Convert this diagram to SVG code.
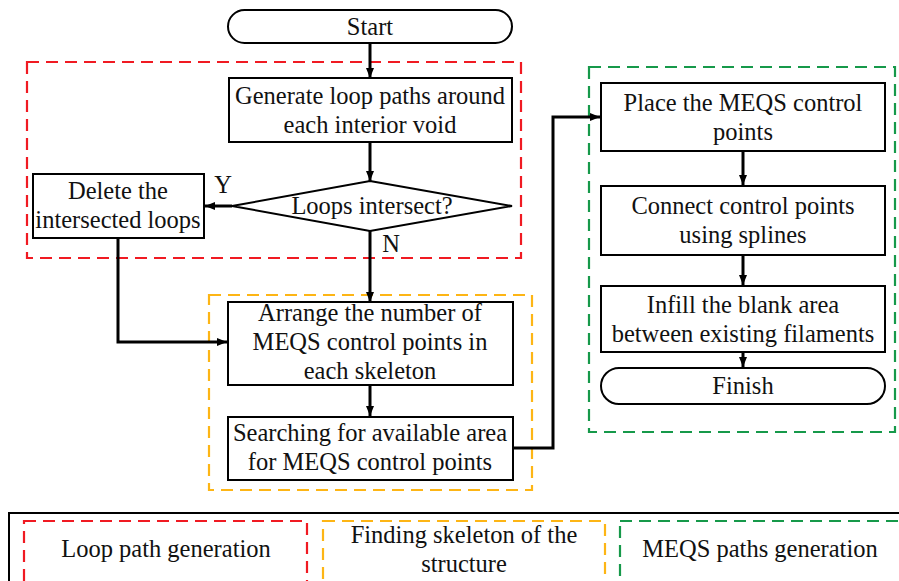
<svg xmlns="http://www.w3.org/2000/svg" width="899" height="581" viewBox="0 0 899 581">
<defs>
<marker id="ah" markerWidth="10" markerHeight="8" refX="10" refY="4" orient="auto" markerUnits="userSpaceOnUse">
<path d="M0,0 L10,4 L0,8 Z" fill="#000"/>
</marker>
<style>
.box{fill:#fff;stroke:#000;stroke-width:2}
.t{font-family:'Liberation Serif','Times New Roman','DejaVu Serif',serif;font-size:24.5px;fill:#111;text-anchor:middle}
.c{fill:none;stroke:#000;stroke-width:3;marker-end:url(#ah)}
.dash{fill:none;stroke-width:2.2;stroke-dasharray:12 7}
.red{stroke:#f01a22}
.org{stroke:#fdb515}
.grn{stroke:#16994a}
</style>
</defs>
<rect width="899" height="581" fill="#fff"/>
<g id="groups">
<rect class="dash red" x="27" y="62" width="494" height="196"/>
<rect class="dash org" x="209" y="295" width="323" height="195"/>
<rect class="dash grn" x="589" y="67" width="306" height="365"/>
</g>
<g id="connectors">
<path class="c" d="M370,43 V78"/>
<path class="c" d="M370,142 V181"/>
<path class="c" d="M232,206 H205"/>
<path class="c" d="M370,231 V302"/>
<path class="c" d="M118,238 V342 H227"/>
<path class="c" d="M370,385 V416"/>
<path class="c" d="M513,448 H553 V117 H600"/>
<path class="c" d="M743,151 V185"/>
<path class="c" d="M743,255 V285"/>
<path class="c" d="M743,352 V367"/>
</g>
<g font-family="'Liberation Serif', 'Times New Roman', serif">
<g id="start">
<rect class="box" x="228" y="10" width="284" height="33" rx="16.5"/>
<text class="t" x="370" y="35">Start</text>
</g>
<g id="generate">
<rect class="box" x="229" y="78" width="283" height="64"/>
<text class="t" x="370" y="104">Generate loop paths around</text>
<text class="t" x="370" y="133">each interior void</text>
</g>
<g id="decision">
<polygon class="box" points="370,181 512,206 370,231 232,206"/>
<text class="t" x="372" y="214">Loops intersect?</text>
</g>
<g id="delete">
<rect class="box" x="33" y="174" width="171" height="64"/>
<text class="t" x="118" y="199">Delete the</text>
<text class="t" x="118" y="228">intersected loops</text>
</g>
<g id="labels">
<text class="t" x="223" y="193">Y</text>
<text class="t" x="391" y="252">N</text>
</g>
<g id="arrange">
<rect class="box" x="228" y="302" width="285" height="83"/>
<text class="t" x="370" y="321">Arrange the number of</text>
<text class="t" x="370" y="350">MEQS control points in</text>
<text class="t" x="370" y="379">each skeleton</text>
</g>
<g id="searching">
<rect class="box" x="228" y="417" width="285" height="63"/>
<text class="t" x="370" y="441">Searching for available area</text>
<text class="t" x="370" y="470">for MEQS control points</text>
</g>
<g id="place">
<rect class="box" x="601" y="83" width="284" height="68"/>
<text class="t" x="743" y="111">Place the MEQS control</text>
<text class="t" x="743" y="140">points</text>
</g>
<g id="connect">
<rect class="box" x="601" y="186" width="284" height="69"/>
<text class="t" x="743" y="214">Connect control points</text>
<text class="t" x="743" y="243">using splines</text>
</g>
<g id="infill">
<rect class="box" x="601" y="286" width="284" height="66"/>
<text class="t" x="743" y="313">Infill the blank area</text>
<text class="t" x="743" y="342">between existing filaments</text>
</g>
<g id="finish">
<rect class="box" x="601" y="368" width="284" height="36" rx="18"/>
<text class="t" x="743" y="394">Finish</text>
</g>
<g id="legend">
<rect x="9" y="513" width="900" height="80" fill="none" stroke="#000" stroke-width="2"/>
<rect class="dash red" x="24" y="521" width="283" height="70"/>
<rect class="dash org" x="323" y="521" width="282" height="70"/>
<rect class="dash grn" x="620" y="521" width="290" height="70"/>
<text class="t" x="166" y="557">Loop path generation</text>
<text class="t" x="464" y="543">Finding skeleton of the</text>
<text class="t" x="464" y="572">structure</text>
<text class="t" x="760" y="557">MEQS paths generation</text>
</g>
</g>
</svg>
